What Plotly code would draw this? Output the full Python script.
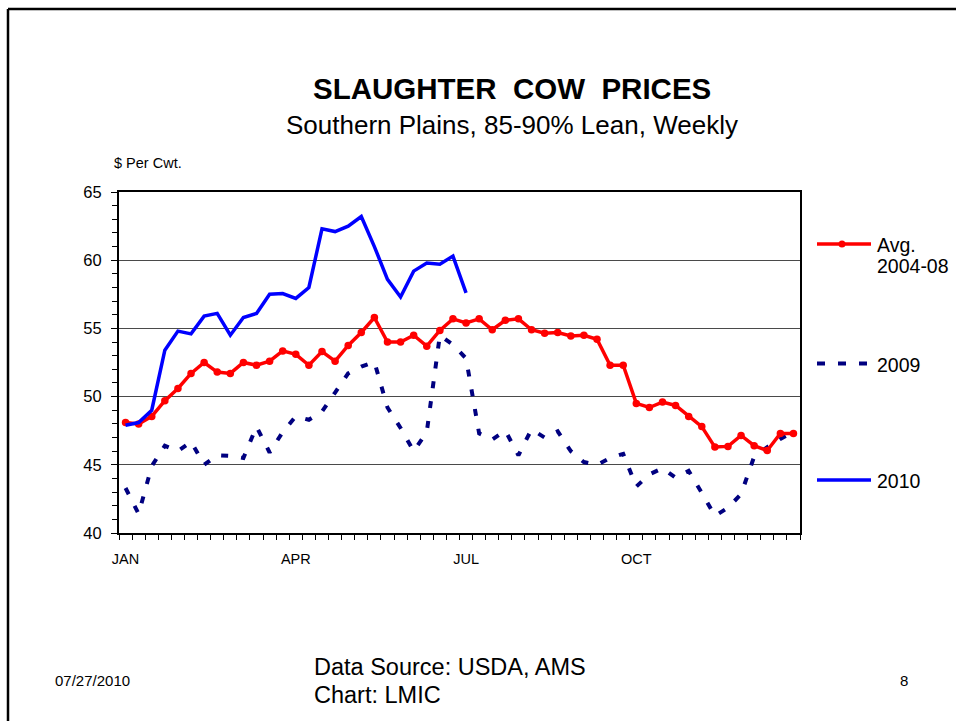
import plotly.graph_objects as go

# ---------------- data ----------------
weeks = list(range(1, 53))
month_ticks = [1, 14, 27, 40]
month_labels = ["JAN", "APR", "JUL", "OCT"]

avg_2004_08 = [48.1, 48.0, 48.55, 49.7, 50.6, 51.7, 52.5, 51.8, 51.7, 52.5,
               52.3, 52.6, 53.35, 53.1, 52.3, 53.3, 52.6, 53.75, 54.7, 55.8,
               54.0, 54.0, 54.5, 53.7, 54.85, 55.7, 55.4, 55.7, 54.9, 55.6,
               55.7, 54.9, 54.65, 54.7, 54.45, 54.5, 54.2, 52.3, 52.3, 49.5,
               49.2, 49.6, 49.35, 48.55, 47.8, 46.3, 46.35, 47.15, 46.4, 46.05,
               47.3, 47.3]

y2009 = [43.3, 41.4, 44.9, 46.4, 46.0, 46.7, 45.0, 45.7, 45.65, 45.5,
         47.8, 45.9, 47.4, 48.55, 48.3, 48.9, 50.3, 51.7, 52.2, 52.55,
         49.2, 47.7, 46.0, 47.4, 54.5, 53.8, 52.8, 47.3, 46.85, 47.5,
         45.7, 47.6, 47.0, 47.45, 46.0, 45.2, 45.0, 45.5, 45.8, 43.4,
         44.3, 44.75, 44.05, 44.55, 42.95, 41.25, 41.85, 42.85, 45.6, 46.3,
         46.9, 47.4]

y2010 = [47.9, 48.1, 49.0, 53.4, 54.8, 54.6, 55.9, 56.1, 54.5, 55.8,
         56.1, 57.5, 57.55, 57.2, 58.0, 62.3, 62.1, 62.5, 63.2, 61.0,
         58.6, 57.3, 59.2, 59.8, 59.7, 60.3, 57.6]

RED = "#FF0000"
NAVY = "#000080"
BLUE = "#0000FF"
FONT = "Liberation Sans, Arial, sans-serif"

W, H = 956, 721
L, R, T, B = 119, 800, 192, 533


def px(x):
    return (x - L) / (R - L)


def py(y):
    return (B - y) / (B - T)


fig = go.Figure()
fig.add_trace(go.Scatter(x=weeks[:len(y2009)], y=y2009, mode="lines",
                         line=dict(color=NAVY, width=4, dash="7px,13px"),
                         name="2009", showlegend=False))
fig.add_trace(go.Scatter(x=weeks, y=avg_2004_08, mode="lines+markers",
                         line=dict(color=RED, width=3.5),
                         marker=dict(color=RED, size=7.5, symbol="circle"),
                         name="Avg. 2004-08", showlegend=False))
fig.add_trace(go.Scatter(x=weeks[:len(y2010)], y=y2010, mode="lines",
                         line=dict(color=BLUE, width=3.5),
                         name="2010", showlegend=False))

shapes = []
# slide frame (left and top edges)
shapes.append(dict(type="line", xref="paper", yref="paper",
                   x0=px(8), x1=px(8), y0=py(9), y1=py(740),
                   line=dict(color="black", width=2.5)))
shapes.append(dict(type="line", xref="paper", yref="paper",
                   x0=px(8), x1=px(975), y0=py(9), y1=py(9),
                   line=dict(color="black", width=2.5)))
# legend samples
shapes.append(dict(type="line", xref="paper", yref="paper",
                   x0=px(817), x1=px(871), y0=py(244), y1=py(244),
                   line=dict(color=RED, width=3.5)))
shapes.append(dict(type="circle", xref="paper", yref="paper",
                   x0=px(838.5), x1=px(845.5), y0=py(240.5), y1=py(247.5),
                   fillcolor=RED, line=dict(color=RED, width=0)))
shapes.append(dict(type="line", xref="paper", yref="paper",
                   x0=px(817), x1=px(871), y0=py(363.5), y1=py(363.5),
                   line=dict(color=NAVY, width=4, dash="8px,13px")))
shapes.append(dict(type="line", xref="paper", yref="paper",
                   x0=px(817), x1=px(871), y0=py(480), y1=py(480),
                   line=dict(color=BLUE, width=3.5)))

annotations = []


def ann(text, x, y, size, xanchor="left", yanchor="middle", bold=False):
    t = f"<b>{text}</b>" if bold else text
    annotations.append(dict(text=t, x=px(x), y=py(y), xref="paper", yref="paper",
                            xanchor=xanchor, yanchor=yanchor, showarrow=False,
                            font=dict(family=FONT, size=size, color="black")))


ann("SLAUGHTER\u00a0 COW\u00a0 PRICES", 512, 88, 29.5, xanchor="center", bold=True)
ann("Southern Plains, 85-90% Lean, Weekly", 511.5, 125, 26, xanchor="center")
ann("$ Per Cwt.", 112, 163, 14.5)
ann("Avg.", 875, 245, 19.5)
ann("2004-08", 875, 266, 19.5)
ann("2009", 875, 364.5, 19.5)
ann("2010", 875, 480.5, 19.5)
ann("07/27/2010", 92.5, 680, 15, xanchor="center")
ann("Data Source: USDA, AMS", 312, 667, 23.5)
ann("Chart: LMIC", 312, 695, 23.5)
ann("8", 904, 680, 15, xanchor="center")

fig.update_layout(
    width=W, height=H,
    margin=dict(l=L, r=W - R, t=T, b=H - B, pad=0),
    paper_bgcolor="white", plot_bgcolor="white",
    font=dict(family=FONT, color="black"),
    showlegend=False,
    shapes=shapes, annotations=annotations,
    xaxis=dict(range=[0.5, 52.5], tickmode="array", tickvals=month_ticks,
               ticktext=month_labels, ticks="outside", ticklen=12,
               tickcolor="rgba(0,0,0,0)", tickfont=dict(family=FONT, size=14.5),
               showgrid=False, zeroline=False,
               showline=True, linecolor="black", linewidth=2, mirror=True,
               minor=dict(tickmode="linear", tick0=0.5, dtick=1,
                          ticks="outside", ticklen=5, tickcolor="black",
                          tickwidth=1, showgrid=False)),
    yaxis=dict(range=[40, 65], tickmode="linear", tick0=40, dtick=5,
               ticks="outside", ticklen=6, tickcolor="black", tickwidth=1,
               tickfont=dict(family=FONT, size=16.5), ticklabelstandoff=6,
               showgrid=True, gridcolor="#4a4a4a", gridwidth=1,
               zeroline=False, showline=True, linecolor="black",
               linewidth=2, mirror=True,
               minor=dict(tickmode="linear", tick0=40, dtick=1,
                          ticks="outside", ticklen=5, tickcolor="black",
                          tickwidth=1, showgrid=False)),
)

fig.write_html("out.html", config={"displayModeBar": False},
               post_script="document.body.style.margin='0';document.body.style.overflow='hidden';")
